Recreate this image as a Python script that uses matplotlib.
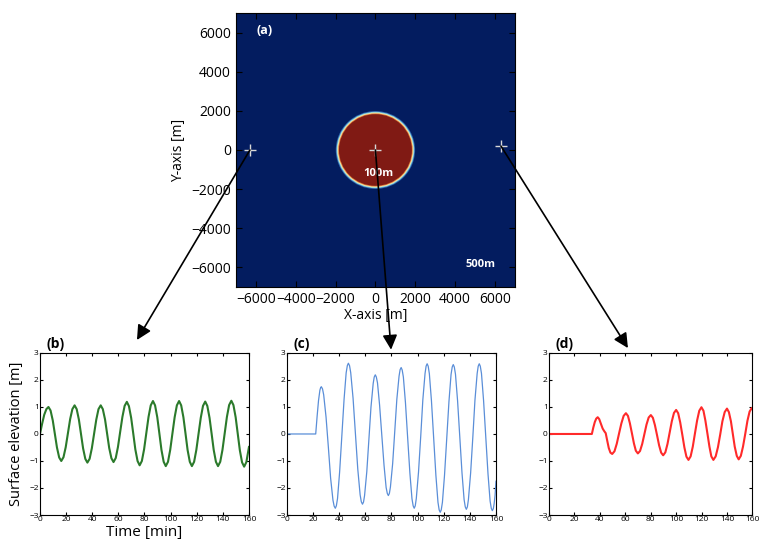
import matplotlib
matplotlib.use("Agg")
import matplotlib.pyplot as plt
from matplotlib.patches import Circle, ConnectionPatch

plt.rcParams['font.family'] = ['Open Sans', 'DejaVu Sans']

# ---- data: gauge positions in panel (a) [m]
gauge_x = [-6300, 0, 6300]
gauge_y = [0, 0, 200]

# circular source: ring radii [m] and colours from edge to core
ring_radii = [1990, 1950, 1910, 1870, 1830]
ring_colors = ['#2c64b0', '#84cfe0', '#f3eca8', '#e0763a', '#801a14']

# ---- data: time series (time [min], elevation [m])
t_b = [0, 1.6, 3.25, 4.9,
       6.5, 8.1, 9.8, 11.4, 13.0, 14.7,
       16.3, 18.0, 19.7, 21.4, 23.1, 24.8,
       26.5, 28.1, 29.8, 31.4, 33.0, 34.7,
       36.3, 38.0, 39.7, 41.4, 43.1, 44.8,
       46.5, 48.1, 49.8, 51.4, 53.0, 54.7,
       56.3, 58.0, 59.7, 61.4, 63.1, 64.8,
       66.5, 68.1, 69.8, 71.4, 73.0, 74.7,
       76.3, 78.0, 79.7, 81.4, 83.1, 84.8,
       86.5, 88.1, 89.8, 91.4, 93.0, 94.7,
       96.3, 98.0, 99.7, 101.4, 103.1, 104.8,
       106.5, 108.1, 109.8, 111.4, 113.0, 114.7,
       116.3, 118.0, 119.7, 121.4, 123.1, 124.8,
       126.5, 128.1, 129.8, 131.4, 133.0, 134.7,
       136.3, 138.0, 139.7, 141.4, 143.1, 144.8,
       146.5, 148.1, 149.8, 151.4, 153.0, 154.7,
       156.3, 158.0, 160.0]
eta_b = [0, 0.37, 0.71, 0.92,
         1.00, 0.87, 0.50, 0.0, -0.50, -0.87,
         -1.00, -0.86, -0.49, 0.03, 0.55, 0.92,
         1.06, 0.92, 0.53, 0.0, -0.53, -0.92,
         -1.06, -0.92, -0.53, 0.0, 0.53, 0.92,
         1.06, 0.92, 0.54, 0.01, -0.52, -0.90,
         -1.04, -0.89, -0.48, 0.08, 0.63, 1.04,
         1.19, 1.03, 0.60, 0.02, -0.57, -1.00,
         -1.16, -1.00, -0.57, 0.03, 0.63, 1.06,
         1.22, 1.06, 0.62, 0.02, -0.59, -1.03,
         -1.19, -1.03, -0.59, 0.02, 0.62, 1.06,
         1.22, 1.06, 0.62, 0.02, -0.59, -1.03,
         -1.19, -1.03, -0.59, 0.01, 0.60, 1.04,
         1.20, 1.04, 0.60, 0.01, -0.59, -1.03,
         -1.19, -1.03, -0.59, 0.02, 0.63, 1.07,
         1.23, 1.07, 0.62, 0.01, -0.60, -1.05,
         -1.21, -1.04, -0.48]

t_c = [0, 22.0, 23.1, 24.15, 25.2, 25.8,
       26.3, 27.2, 28.1, 29.9, 31.7, 33.4, 35.2, 36.1,
       37.0, 37.8, 38.7, 40.3, 42.0, 43.7, 45.3, 46.2,
       47.0, 47.9, 48.8, 50.6, 52.4, 54.2, 56.0, 56.9,
       57.8, 58.6, 59.4, 61.1, 62.7, 64.3, 66.0, 66.8,
       67.6, 68.4, 69.3, 70.9, 72.6, 74.3, 75.9, 76.8,
       77.6, 78.4, 79.2, 80.9, 82.5, 84.1, 85.8, 86.6,
       87.4, 88.2, 89.1, 90.7, 92.4, 94.1, 95.7, 96.6,
       97.4, 98.2, 99.0, 100.7, 102.4, 104.0, 105.7, 106.5,
       107.3, 108.1, 109.0, 110.6, 112.3, 114.0, 115.6, 116.5,
       117.3, 118.1, 119.0, 120.6, 122.3, 124.0, 125.6, 126.5,
       127.3, 128.1, 129.0, 130.6, 132.3, 134.0, 135.6, 136.5,
       137.3, 138.1, 138.9, 140.6, 142.3, 143.9, 145.6, 146.4,
       147.2, 148.0, 148.9, 150.5, 152.2, 153.9, 155.5, 156.4,
       157.2, 158.0, 158.6, 159.3, 160.0]
eta_c = [0, 0, 0.67, 1.24, 1.62, 1.72,
         1.75, 1.67, 1.45, 0.63, -0.50, -1.63, -2.45, -2.67,
         -2.75, -2.66, -2.39, -1.41, -0.07, 1.28, 2.26, 2.53,
         2.62, 2.53, 2.27, 1.32, 0.01, -1.30, -2.25, -2.51,
         -2.60, -2.52, -2.28, -1.40, -0.21, 0.99, 1.87, 2.11,
         2.19, 2.11, 1.89, 1.07, -0.05, -1.16, -1.98, -2.20,
         -2.28, -2.20, -1.96, -1.10, 0.09, 1.28, 2.14, 2.38,
         2.46, 2.37, 2.11, 1.16, -0.15, -1.45, -2.40, -2.66,
         -2.75, -2.66, -2.39, -1.41, -0.08, 1.26, 2.24, 2.51,
         2.60, 2.51, 2.23, 1.23, -0.15, -1.53, -2.53, -2.81,
         -2.90, -2.81, -2.53, -1.53, -0.17, 1.20, 2.20, 2.48,
         2.57, 2.48, 2.21, 1.23, -0.11, -1.45, -2.43, -2.70,
         -2.79, -2.70, -2.43, -1.44, -0.10, 1.25, 2.24, 2.51,
         2.60, 2.51, 2.24, 1.24, -0.12, -1.48, -2.48, -2.75,
         -2.84, -2.76, -2.58, -2.27, -1.75]

t_d = [0, 33.7, 34.85, 36.0, 37.15,
       38.3, 39.5, 40.8, 42.2, 43.5, 44.6, 45.8, 47.0, 48.3,
       49.7, 51.5, 53.3, 55.1, 56.9, 58.7,
       60.5, 62.1, 63.6, 65.2, 66.8, 68.3,
       69.9, 71.6, 73.3, 75.0, 76.7, 78.4,
       80.1, 81.7, 83.3, 85.0, 86.6, 88.2,
       89.8, 91.5, 93.2, 94.9, 96.6, 98.3,
       100.0, 101.6, 103.2, 104.9, 106.5, 108.1,
       109.7, 111.4, 113.1, 114.8, 116.5, 118.2,
       119.9, 121.5, 123.0, 124.6, 126.2, 127.7,
       129.3, 131.1, 132.9, 134.7, 136.4, 138.2,
       140.0, 141.5, 143.1, 144.6, 146.1, 147.7,
       149.2, 150.9, 152.6, 154.4, 156.1, 157.8,
       159.5, 160.0]
eta_d = [0, 0, 0.24, 0.44, 0.57,
         0.62, 0.55, 0.38, 0.20, 0.10, 0.03, -0.25, -0.52, -0.69,
         -0.74, -0.64, -0.36, 0.02, 0.39, 0.67,
         0.77, 0.67, 0.40, 0.03, -0.35, -0.62,
         -0.72, -0.63, -0.37, -0.01, 0.35, 0.61,
         0.70, 0.60, 0.33, -0.05, -0.42, -0.69,
         -0.79, -0.68, -0.37, 0.05, 0.47, 0.78,
         0.89, 0.77, 0.43, -0.04, -0.50, -0.84,
         -0.96, -0.83, -0.47, 0.02, 0.50, 0.86,
         0.99, 0.86, 0.50, 0.02, -0.47, -0.83,
         -0.96, -0.83, -0.49, -0.01, 0.47, 0.81,
         0.94, 0.81, 0.47, 0.0, -0.47, -0.81,
         -0.94, -0.81, -0.47, 0.01, 0.49, 0.83,
         0.96, 0.955]

ticks_xy = [-6000, -4000, -2000, 0, 2000, 4000, 6000]
ticks_t = [0, 20, 40, 60, 80, 100, 120, 140, 160]
ticks_eta = [-3, -2, -1, 0, 1, 2, 3]

fig = plt.figure(figsize=(7.6, 5.42), dpi=100)

# ---- panel (a): domain map
ax_a = fig.add_axes([0.3105, 0.4705, 0.367, 0.5055])
ax_a.set_facecolor('#031c5f')
for r, c in zip(ring_radii, ring_colors):
    ax_a.add_patch(Circle((0, 0), r, facecolor=c, edgecolor='none'))
ax_a.plot(gauge_x, gauge_y, '+', color='#d8d8d8', ms=8, mew=1)
ax_a.set_xlim(-7000, 7000)
ax_a.set_ylim(-7000, 7000)
ax_a.set_xticks(ticks_xy)
ax_a.set_yticks(ticks_xy)
ax_a.tick_params(direction='in', top=True, right=True, labelsize=10, length=4)
ax_a.set_xlabel('X-axis [m]', fontsize=10, labelpad=1)
ax_a.set_ylabel('Y-axis [m]', fontsize=10)
ax_a.text(-5550, 6100, '(a)', color='white', fontsize=9, fontweight='bold',
          ha='center', va='center')
ax_a.text(150, -1200, '100m', color='white', fontsize=8, fontweight='bold',
          ha='center', va='center')
ax_a.text(5250, -5850, '500m', color='white', fontsize=8, fontweight='bold',
          ha='center', va='center')

# ---- bottom panels: time series
series = [(t_b, eta_b, '#2b7a2b', 1.5, '(b)', 0.0526, 0.275),
          (t_c, eta_c, '#5a8ed8', 0.9, '(c)', 0.3776, 0.275),
          (t_d, eta_d, '#ff2a2a', 1.5, '(d)', 0.7224, 0.2676)]
axes = []
for t, eta, col, lw, lab, left, w in series:
    ax = fig.add_axes([left, 0.0498, w, 0.299])
    ax.plot(t, eta, color=col, lw=lw)
    ax.set_xlim(0, 160)
    ax.set_ylim(-3, 3)
    ax.set_xticks(ticks_t)
    ax.set_yticks(ticks_eta)
    ax.tick_params(direction='in', top=True, right=True, labelsize=6,
                   length=2.5, pad=1)
    ax.text(0.03, 1.01, lab, transform=ax.transAxes, fontsize=10,
            fontweight='bold', ha='left', va='bottom')
    axes.append(ax)

axes[0].set_ylabel('Surface elevation [m]', fontsize=10.5, labelpad=4)
axes[0].set_xlabel('Time [min]', fontsize=11, labelpad=1)

# ---- arrows from gauges to their panels
tips = [(0.464, 1.08), (0.498, 1.02), (0.388, 1.03)]
for gx, gy, ax, tip in zip(gauge_x, gauge_y, axes, tips):
    con = ConnectionPatch(xyA=(gx, gy), coordsA=ax_a.transData,
                          xyB=tip, coordsB=ax.transAxes,
                          arrowstyle='-|>', mutation_scale=22,
                          color='black', lw=1.2, shrinkA=0, shrinkB=0)
    fig.add_artist(con)

fig.savefig('out.png', dpi=100)
